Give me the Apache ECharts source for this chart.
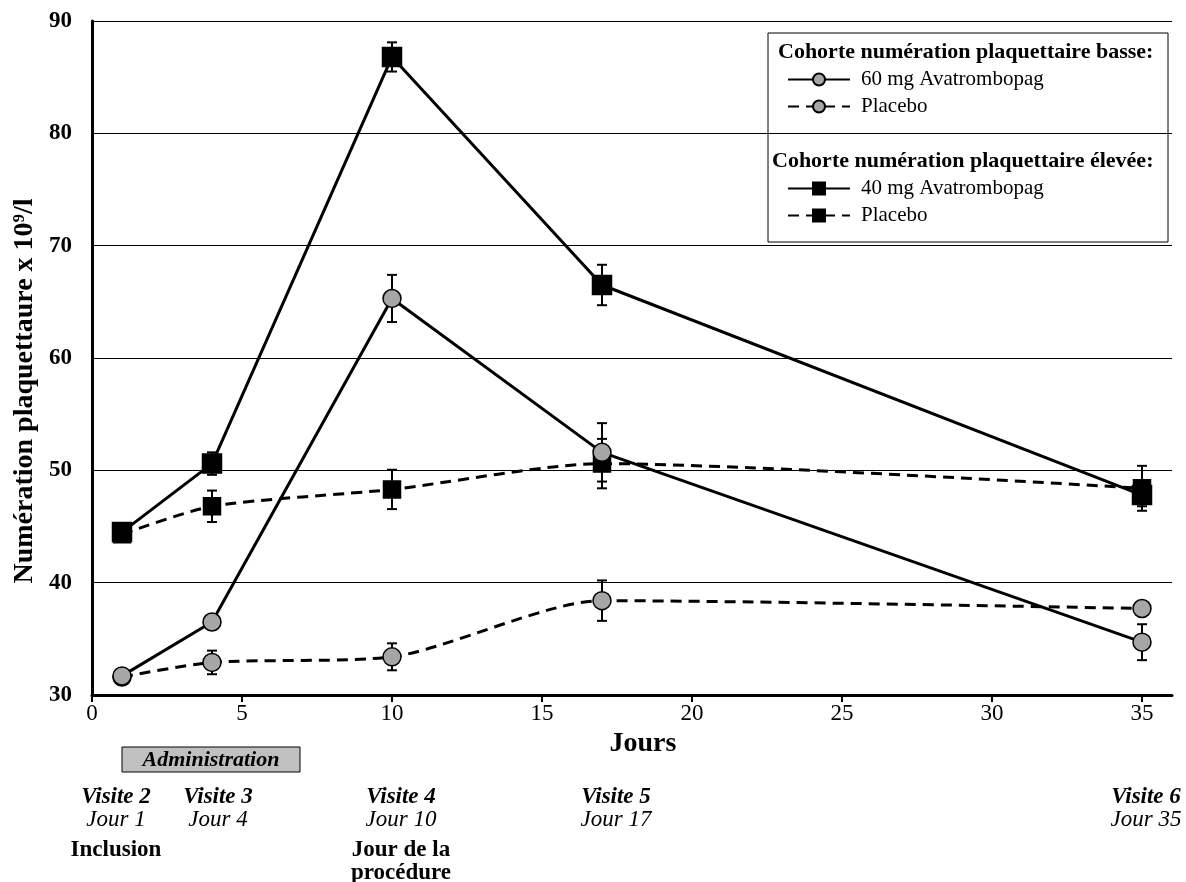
<!DOCTYPE html>
<html>
<head>
<meta charset="utf-8">
<script src="https://cdn.jsdelivr.net/npm/echarts@6/dist/echarts.min.js"></script>
<style>
  html, body { margin: 0; padding: 0; background: #fff; }
  #chart { width: 1186px; height: 882px; }
</style>
</head>
<body>
<div id="chart"></div>
<script>
const days = [1, 4, 10, 17, 35];
const xTicks = [0, 5, 10, 15, 20, 25, 30, 35];

// cohorte basse
const low60 = [31.7, 36.5, 65.3, 51.6, 34.7];
const low60Err = [0.3, 0.6, 2.1, 2.6, 1.6];
const lowPlacebo = [31.6, 32.9, 33.4, 38.4, 37.7];
const lowPlaceboErr = [0.3, 1.05, 1.2, 1.8, 0.6];

// cohorte élevée
const high40 = [44.5, 50.6, 86.8, 66.5, 47.8];
const high40Err = [0.5, 1.0, 1.3, 1.8, 1.0];
const highPlacebo = [44.3, 46.8, 48.3, 50.6, 48.4];
const highPlaceboErr = [0.5, 1.4, 1.75, 2.2, 2.0];

const visits = ['Visite 2', 'Visite 3', 'Visite 4', 'Visite 5', 'Visite 6'];
const visitDays = ['Jour 1', 'Jour 4', 'Jour 10', 'Jour 17', 'Jour 35'];
const visitX = [116, 218, 401, 616, 1146];

const FONT = '"Liberation Serif", "DejaVu Serif", serif';
const pairs = (ys) => days.map((d, i) => [d, ys[i]]);
const errData = (ys, es) => days.map((d, i) => [d, ys[i] - es[i], ys[i] + es[i]]);

const errorSeries = (ys, es) => ({
  type: 'custom',
  z: 1,
  silent: true,
  data: errData(ys, es),
  renderItem: (params, api) => {
    const lo = api.coord([api.value(0), api.value(1)]);
    const hi = api.coord([api.value(0), api.value(2)]);
    const w = 5;
    const style = { stroke: '#000', lineWidth: 2 };
    return {
      type: 'group',
      children: [
        { type: 'line', shape: { x1: lo[0], y1: lo[1], x2: hi[0], y2: hi[1] }, style },
        { type: 'line', shape: { x1: lo[0] - w, y1: lo[1], x2: lo[0] + w, y2: lo[1] }, style },
        { type: 'line', shape: { x1: hi[0] - w, y1: hi[1], x2: hi[0] + w, y2: hi[1] }, style }
      ]
    };
  }
});

const lineSeries = (name, ys, symbol, fill, dashed, size) => ({
  name,
  type: 'line',
  z: 3,
  data: pairs(ys),
  symbol,
  symbolSize: size,
  smooth: dashed ? 0.25 : false,
  lineStyle: { color: '#000', width: 3, type: dashed ? [11, 7] : 'solid' },
  itemStyle: { color: fill, borderColor: '#000', borderWidth: 1.5 }
});

const legendBlock = (names, top) => ({
  data: names,
  orient: 'vertical',
  left: 787,
  top,
  padding: 0,
  itemWidth: 62,
  itemHeight: 15,
  itemGap: 6,
  formatter: (n) => n.replace(/ \(.*\)$/, ''),
  textStyle: { fontFamily: FONT, fontSize: 21, lineHeight: 20, color: '#000', padding: [0, 0, 0, 6] }
});

const chart = echarts.init(document.getElementById('chart'));

const visitTexts = [];
visits.forEach((v, i) => {
  visitTexts.push({
    type: 'text', x: visitX[i], y: 797,
    style: { text: v, font: `italic bold 23px ${FONT}`, fill: '#000', align: 'center', verticalAlign: 'middle' }
  });
  visitTexts.push({
    type: 'text', x: visitX[i], y: 820,
    style: { text: visitDays[i], font: `italic 23px ${FONT}`, fill: '#000', align: 'center', verticalAlign: 'middle' }
  });
});

chart.setOption({
  animation: false,
  backgroundColor: '#fff',
  grid: { left: 92, right: 14, top: 21, bottom: 187 },
  xAxis: {
    type: 'value',
    min: 0,
    max: 36,
    interval: 5,
    name: 'Jours',
    nameLocation: 'middle',
    nameGap: 28,
    nameTextStyle: { fontFamily: FONT, fontWeight: 'bold', fontSize: 28, color: '#000', padding: [0, 0, 0, 22] },
    axisLine: { lineStyle: { color: '#000', width: 3 } },
    axisTick: { show: true, length: 7, lineStyle: { color: '#000', width: 2 }, customValues: xTicks },
    axisLabel: { fontFamily: FONT, fontSize: 23, color: '#000', margin: 7, customValues: xTicks },
    splitLine: { show: false }
  },
  yAxis: {
    type: 'value',
    min: 30,
    max: 90,
    interval: 10,
    axisLine: { show: true, lineStyle: { color: '#000', width: 3 } },
    axisTick: { show: false },
    axisLabel: { fontFamily: FONT, fontWeight: 'bold', fontSize: 23, color: '#000', margin: 20 },
    splitLine: { show: true, lineStyle: { color: '#000', width: 1 } }
  },
  legend: [
    legendBlock(['60 mg Avatrombopag', 'Placebo (basse)'], 69),
    legendBlock(['40 mg Avatrombopag', 'Placebo (élevée)'], 178)
  ],
  graphic: [
    {
      type: 'text', x: 25, y: 391, rotation: Math.PI / 2,
      style: { text: 'Numération plaquettaure x 10⁹/l', font: `bold 28px ${FONT}`, fill: '#000', align: 'center', verticalAlign: 'middle' }
    },
    { type: 'rect', shape: { x: 768, y: 33, width: 400, height: 209 }, style: { fill: 'none', stroke: '#000', lineWidth: 1 }, z: 10 },
    { type: 'text', x: 778, y: 52, style: { text: 'Cohorte numération plaquettaire basse:', font: `bold 22px ${FONT}`, fill: '#000', verticalAlign: 'middle' }, z: 10 },
    { type: 'text', x: 772, y: 161, style: { text: 'Cohorte numération plaquettaire élevée:', font: `bold 22px ${FONT}`, fill: '#000', verticalAlign: 'middle' }, z: 10 },
    { type: 'rect', shape: { x: 122, y: 747, width: 178, height: 25 }, style: { fill: '#c0c0c0', stroke: '#000', lineWidth: 1 } },
    { type: 'text', x: 211, y: 760, style: { text: 'Administration', font: `italic bold 22px ${FONT}`, fill: '#000', align: 'center', verticalAlign: 'middle' } },
    ...visitTexts,
    { type: 'text', x: 116, y: 850, style: { text: 'Inclusion', font: `bold 23px ${FONT}`, fill: '#000', align: 'center', verticalAlign: 'middle' } },
    { type: 'text', x: 401, y: 850, style: { text: 'Jour de la', font: `bold 23px ${FONT}`, fill: '#000', align: 'center', verticalAlign: 'middle' } },
    { type: 'text', x: 401, y: 873, style: { text: 'procédure', font: `bold 23px ${FONT}`, fill: '#000', align: 'center', verticalAlign: 'middle' } }
  ],
  series: [
    errorSeries(low60, low60Err),
    errorSeries(lowPlacebo, lowPlaceboErr),
    errorSeries(high40, high40Err),
    errorSeries(highPlacebo, highPlaceboErr),
    lineSeries('Placebo (basse)', lowPlacebo, 'circle', '#a6a6a6', true, 18),
    lineSeries('Placebo (élevée)', highPlacebo, 'rect', '#000', true, 17),
    lineSeries('60 mg Avatrombopag', low60, 'circle', '#a6a6a6', false, 18),
    lineSeries('40 mg Avatrombopag', high40, 'rect', '#000', false, 19)
  ]
});
</script>
</body>
</html>
